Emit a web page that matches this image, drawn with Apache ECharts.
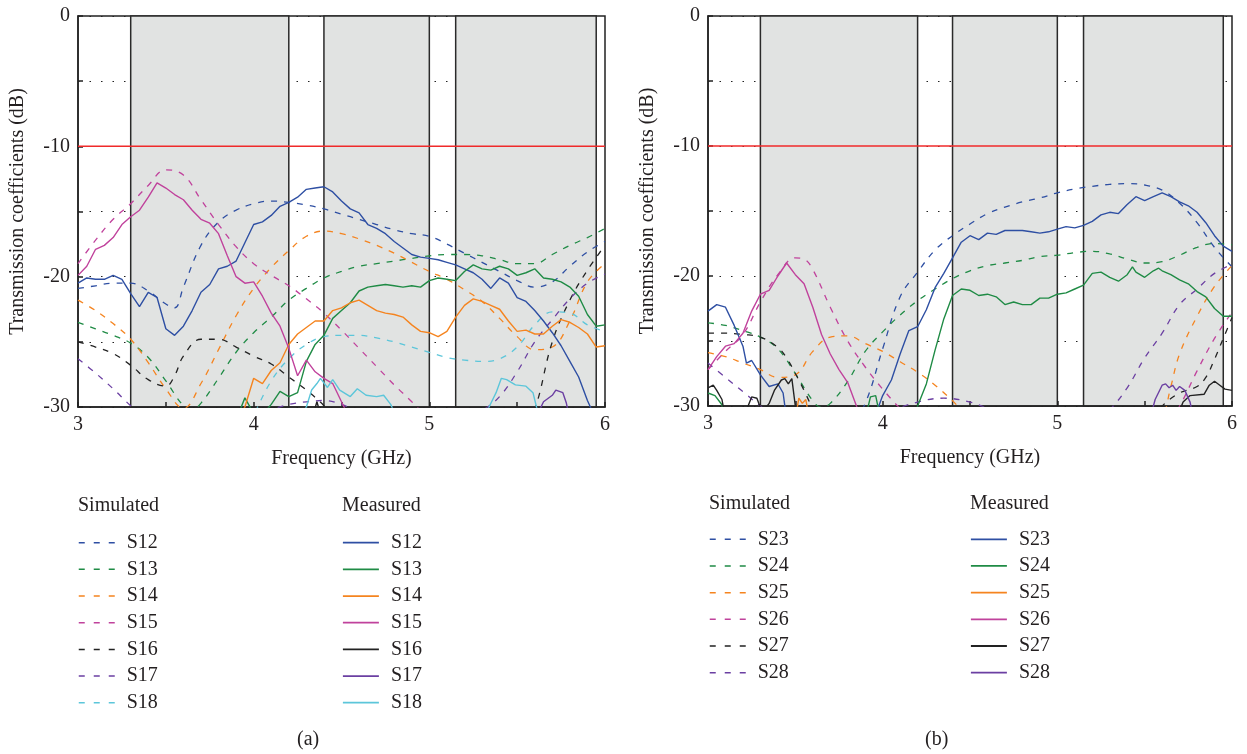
<!DOCTYPE html>
<html>
<head>
<meta charset="utf-8">
<script src="https://cdn.jsdelivr.net/npm/echarts@6/dist/echarts.min.js"></script>
<style>
html,body{margin:0;padding:0;background:#fff;}
#chart{width:1247px;height:754px;}
</style>
</head>
<body>
<div id="chart"></div>
<script>
// ---------- categories / ticks ----------
const freqMin = 3, freqMax = 6;
const dbMin = -30, dbMax = 0;
const threshold = -10;
const bandsA = [[3.3, 4.2], [4.4, 5.0], [5.15, 5.95]];
const bandsB = [[3.3, 4.2], [4.4, 5.0], [5.15, 5.95]];
const namesA = ['S12', 'S13', 'S14', 'S15', 'S16', 'S17', 'S18'];
const namesB = ['S23', 'S24', 'S25', 'S26', 'S27', 'S28'];

// ---------- panel (a) simulated ----------
const simS12 = [[3.0,-20.9],[3.1,-20.7],[3.2,-20.5],[3.3,-20.5],[3.4,-21.1],[3.5,-22.1],[3.55,-22.4],[3.6,-20.8],[3.7,-17.6],[3.8,-15.8],[3.9,-14.9],[4.0,-14.4],[4.1,-14.2],[4.2,-14.3],[4.3,-14.5],[4.4,-14.8],[4.5,-15.2],[4.6,-15.6],[4.7,-16.0],[4.8,-16.4],[4.9,-16.7],[5.0,-16.9],[5.1,-17.5],[5.2,-18.2],[5.3,-18.9],[5.4,-19.6],[5.5,-20.3],[5.6,-20.8],[5.7,-20.4],[5.8,-19.2],[5.9,-18.1],[6.0,-17.3]];
const simS13 = [[3.0,-23.5],[3.1,-24.0],[3.2,-24.5],[3.3,-25.1],[3.4,-26.2],[3.5,-28.0],[3.6,-29.9],[3.65,-30.2],[3.7,-29.7],[3.8,-27.8],[3.9,-25.8],[4.0,-24.3],[4.1,-23.1],[4.2,-21.8],[4.3,-20.9],[4.4,-20.1],[4.5,-19.6],[4.6,-19.2],[4.7,-19.0],[4.8,-18.8],[4.9,-18.6],[5.0,-18.4],[5.1,-18.3],[5.2,-18.3],[5.3,-18.4],[5.4,-18.7],[5.5,-19.0],[5.6,-19.0],[5.7,-18.3],[5.8,-17.6],[5.9,-17.0],[6.0,-16.3]];
const simS14 = [[3.0,-21.8],[3.1,-22.6],[3.2,-23.6],[3.3,-24.8],[3.4,-26.6],[3.5,-28.6],[3.6,-30.1],[3.7,-28.2],[3.8,-25.6],[3.9,-23.0],[4.0,-20.9],[4.1,-19.3],[4.2,-18.0],[4.3,-16.9],[4.4,-16.5],[4.5,-16.7],[4.6,-17.1],[4.7,-17.6],[4.8,-18.2],[4.9,-18.9],[5.0,-19.6],[5.1,-20.2],[5.2,-21.0],[5.3,-21.9],[5.4,-23.2],[5.5,-24.6],[5.6,-25.6],[5.7,-25.4],[5.8,-23.4],[5.9,-20.4],[6.0,-19.0]];
const simS15 = [[3.0,-19.0],[3.1,-17.2],[3.2,-15.6],[3.3,-14.4],[3.4,-13.0],[3.5,-11.8],[3.6,-12.2],[3.7,-14.1],[3.8,-16.0],[3.9,-17.7],[4.0,-19.0],[4.1,-19.9],[4.2,-20.7],[4.3,-21.7],[4.4,-22.8],[4.5,-24.1],[4.6,-25.5],[4.7,-26.9],[4.8,-28.3],[4.9,-29.6],[5.0,-31.0],[5.1,-32.5]];
const simS16 = [[3.0,-25.0],[3.1,-25.4],[3.2,-25.9],[3.3,-26.8],[3.4,-27.9],[3.5,-28.4],[3.55,-27.6],[3.6,-26.1],[3.7,-24.8],[3.8,-24.8],[3.9,-25.4],[4.0,-26.1],[4.1,-26.7],[4.2,-27.7],[4.3,-28.7],[4.4,-29.9],[4.5,-31.5],[4.6,-33],[5.0,'-'],[5.5,-33],[5.6,-30.2],[5.7,-25.0],[5.8,-21.8],[5.9,-19.5],[6.0,-17.6]];
const simS17 = [[3.0,-26.3],[3.1,-27.4],[3.2,-28.6],[3.3,-29.9],[3.4,-31.0],[3.5,-32.0],[3.6,-32.5],[3.7,-32.2],[3.8,-31.6],[3.9,-31.1],[4.0,-30.6],[4.1,-30.2],[4.2,-29.8],[4.3,-29.6],[4.4,-29.5],[4.5,-29.8],[4.6,-30.4],[4.7,-31.0],[4.8,-31.6],[4.9,-32.0],[5.0,-32.1],[5.1,-31.8],[5.2,-31.2],[5.3,-30.3],[5.4,-29.2],[5.5,-27.3],[5.6,-25.0],[5.7,-23.3],[5.8,-21.7],[5.9,-20.5],[6.0,-19.8]];
const simS18 = [[3.9,-33.0],[4.0,-30.6],[4.1,-28.0],[4.2,-26.3],[4.3,-25.2],[4.4,-24.6],[4.5,-24.5],[4.6,-24.5],[4.7,-24.7],[4.8,-25.0],[4.9,-25.4],[5.0,-25.8],[5.1,-26.2],[5.2,-26.4],[5.3,-26.5],[5.4,-26.3],[5.5,-25.4],[5.6,-23.7],[5.7,-22.7],[5.8,-22.8],[5.9,-23.7],[6.0,-24.2]];

// ---------- panel (a) measured ----------
const measS12 = [[3.0,-20.5],[3.05,-20.1],[3.1,-20.2],[3.15,-20.2],[3.2,-19.9],[3.25,-20.2],[3.3,-21.3],[3.35,-22.3],[3.4,-21.2],[3.45,-21.6],[3.5,-24.0],[3.55,-24.5],[3.6,-23.8],[3.65,-22.6],[3.7,-21.2],[3.75,-20.6],[3.8,-19.4],[3.85,-19.2],[3.9,-18.8],[3.95,-17.4],[4.0,-16.0],[4.05,-15.8],[4.1,-15.3],[4.15,-14.6],[4.2,-14.3],[4.25,-13.9],[4.3,-13.3],[4.35,-13.2],[4.4,-13.1],[4.45,-13.5],[4.5,-14.2],[4.55,-14.8],[4.6,-15.1],[4.65,-16.0],[4.7,-16.3],[4.75,-16.7],[4.8,-17.3],[4.85,-17.8],[4.9,-18.3],[4.95,-18.5],[5.0,-18.6],[5.05,-18.7],[5.1,-18.9],[5.15,-19.1],[5.2,-19.4],[5.25,-19.7],[5.3,-20.2],[5.35,-20.9],[5.4,-20.1],[5.45,-20.5],[5.5,-21.6],[5.55,-21.9],[5.6,-22.6],[5.65,-23.4],[5.7,-24.3],[5.75,-25.3],[5.8,-26.5],[5.85,-27.7],[5.9,-29.5],[5.95,-31.0],[6.0,-32.0]];
const measS13 = [[3.9,-31.0],[3.95,-29.3],[4.0,-30.5],[4.05,-30.6],[4.1,-29.8],[4.15,-28.8],[4.2,-29.2],[4.25,-28.9],[4.3,-26.5],[4.35,-25.2],[4.4,-24.5],[4.45,-23.2],[4.5,-22.6],[4.55,-22.0],[4.6,-21.1],[4.65,-20.8],[4.7,-20.7],[4.75,-20.6],[4.8,-20.7],[4.85,-20.8],[4.9,-20.7],[4.95,-20.8],[5.0,-20.3],[5.05,-20.1],[5.1,-20.2],[5.15,-20.3],[5.2,-19.6],[5.25,-19.1],[5.3,-19.4],[5.35,-19.5],[5.4,-19.2],[5.45,-19.4],[5.5,-19.9],[5.55,-19.7],[5.6,-19.4],[5.65,-20.1],[5.7,-20.2],[5.75,-20.4],[5.8,-20.8],[5.85,-21.5],[5.9,-22.9],[5.95,-23.8],[6.0,-23.7]];
const measS14 = [[3.9,-31.0],[3.95,-30.0],[4.0,-27.8],[4.05,-28.2],[4.1,-27.2],[4.15,-26.6],[4.2,-25.2],[4.25,-24.4],[4.3,-23.9],[4.35,-23.4],[4.4,-23.4],[4.45,-22.6],[4.5,-22.4],[4.55,-22.0],[4.6,-21.8],[4.65,-22.2],[4.7,-22.6],[4.75,-22.8],[4.8,-22.9],[4.85,-23.1],[4.9,-23.7],[4.95,-24.2],[5.0,-24.3],[5.05,-24.6],[5.1,-24.2],[5.15,-23.1],[5.2,-22.2],[5.25,-21.7],[5.3,-21.9],[5.35,-22.2],[5.4,-22.5],[5.45,-23.4],[5.5,-24.2],[5.55,-24.1],[5.6,-24.4],[5.65,-24.4],[5.7,-23.8],[5.75,-23.3],[5.8,-23.5],[5.85,-23.9],[5.9,-24.4],[5.95,-25.4],[6.0,-25.3]];
const measS15 = [[3.0,-19.9],[3.05,-19.2],[3.1,-17.9],[3.15,-17.6],[3.2,-17.0],[3.25,-16.0],[3.3,-15.4],[3.35,-14.9],[3.4,-13.9],[3.45,-12.8],[3.5,-13.2],[3.55,-13.7],[3.6,-14.1],[3.65,-14.9],[3.7,-15.6],[3.75,-15.9],[3.8,-16.7],[3.85,-18.4],[3.9,-20.0],[3.95,-20.5],[4.0,-20.4],[4.05,-21.5],[4.1,-22.8],[4.15,-23.8],[4.2,-25.5],[4.25,-27.6],[4.3,-26.4],[4.35,-27.3],[4.4,-27.8],[4.45,-28.2],[4.5,-29.6],[4.55,-31.0]];
const measS16 = [[4.33,-31.0],[4.36,-29.6],[4.39,-31.0]];
const measS17 = [[5.6,-31.0],[5.65,-29.6],[5.7,-29.1],[5.72,-28.7],[5.76,-28.9],[5.78,-29.7],[5.8,-31.0]];
const measS18 = [[4.25,-31.0],[4.3,-30.0],[4.33,-28.7],[4.36,-28.2],[4.38,-27.8],[4.42,-28.5],[4.45,-27.9],[4.49,-28.7],[4.55,-29.2],[4.59,-28.6],[4.64,-29.1],[4.7,-29.2],[4.74,-29.1],[4.78,-29.8],[4.82,-31.0],[4.9,'-'],[5.3,-31.0],[5.34,-30.0],[5.38,-28.9],[5.41,-27.8],[5.44,-27.9],[5.49,-28.3],[5.55,-28.4],[5.59,-28.9],[5.61,-30.0],[5.63,-31.0]];

// ---------- panel (b) simulated ----------
const simS23 = [[3.8,-32.0],[3.9,-29.8],[4.0,-25.6],[4.1,-21.6],[4.2,-19.7],[4.3,-18.0],[4.4,-16.9],[4.5,-16.0],[4.6,-15.2],[4.7,-14.7],[4.8,-14.3],[4.9,-14.0],[5.0,-13.6],[5.1,-13.3],[5.2,-13.1],[5.3,-12.95],[5.4,-12.9],[5.5,-13.0],[5.6,-13.4],[5.7,-14.4],[5.8,-15.9],[5.9,-17.8],[6.0,-19.3]];
const simS24 = [[3.0,-23.6],[3.1,-23.8],[3.2,-24.2],[3.3,-24.7],[3.4,-25.6],[3.5,-27.5],[3.6,-29.6],[3.65,-30.1],[3.7,-29.8],[3.8,-28.1],[3.9,-25.8],[4.0,-24.3],[4.1,-23.0],[4.2,-21.9],[4.3,-21.0],[4.4,-20.2],[4.5,-19.6],[4.6,-19.2],[4.7,-19.0],[4.8,-18.8],[4.9,-18.5],[5.0,-18.4],[5.1,-18.2],[5.2,-18.1],[5.3,-18.3],[5.4,-18.7],[5.5,-19.0],[5.6,-18.9],[5.7,-18.4],[5.8,-17.8],[5.9,-17.5],[6.0,-17.6]];
const simS25 = [[3.0,-25.9],[3.1,-26.2],[3.2,-26.7],[3.3,-27.2],[3.4,-27.8],[3.5,-27.6],[3.6,-25.8],[3.7,-24.7],[3.8,-24.6],[3.9,-25.2],[4.0,-25.8],[4.1,-26.6],[4.2,-27.4],[4.3,-28.4],[4.4,-29.6],[4.5,-31.0],[4.6,-32.0],[5.0,'-'],[5.5,-33.0],[5.6,-31.0],[5.65,-28.5],[5.7,-26.0],[5.8,-23.1],[5.9,-20.8],[6.0,-19.2]];
const simS26 = [[3.0,-27.2],[3.1,-25.8],[3.2,-24.5],[3.3,-22.0],[3.4,-19.9],[3.5,-18.6],[3.55,-18.7],[3.6,-19.5],[3.7,-22.4],[3.8,-25.0],[3.9,-27.0],[4.0,-28.7],[4.1,-30.2],[4.2,-31.5],[4.5,'-'],[5.6,-32.0],[5.7,-30.0],[5.8,-27.3],[5.9,-24.8],[6.0,-22.8]];
const simS27 = [[3.0,-24.4],[3.1,-24.4],[3.2,-24.5],[3.3,-24.7],[3.4,-25.5],[3.45,-26.3],[3.5,-27.5],[3.55,-28.8],[3.6,-30.3],[3.65,-32.0],[4.0,'-'],[5.55,-31.0],[5.6,-30.0],[5.7,-29.0],[5.8,-28.5],[5.85,-27.8],[5.9,-26.4],[5.95,-24.8],[6.0,-23.2]];
const simS28 = [[3.0,-26.7],[3.1,-27.8],[3.2,-28.9],[3.3,-30.0],[3.4,-31.0],[3.6,-32.0],[3.8,-31.5],[4.0,-30.6],[4.2,-29.7],[4.35,-29.4],[4.5,-29.7],[4.6,-30.2],[4.8,-31.5],[5.0,-32.0],[5.2,-31.5],[5.3,-30.3],[5.4,-28.6],[5.5,-26.3],[5.6,-24.4],[5.7,-22.2],[5.8,-21.0],[5.9,-19.8],[6.0,-19.1]];

// ---------- panel (b) measured ----------
const measS23 = [[3.0,-22.7],[3.05,-22.2],[3.1,-22.4],[3.15,-23.8],[3.2,-25.4],[3.22,-26.7],[3.25,-26.5],[3.3,-27.6],[3.35,-28.5],[3.4,-28.3],[3.43,-29.0],[3.45,-31.0],[3.7,'-'],[3.95,-31.0],[4.0,-29.2],[4.05,-28.0],[4.1,-26.0],[4.15,-24.2],[4.2,-23.9],[4.25,-22.6],[4.3,-20.9],[4.35,-19.8],[4.4,-18.6],[4.45,-17.4],[4.5,-16.9],[4.55,-17.2],[4.6,-16.7],[4.65,-16.8],[4.7,-16.5],[4.75,-16.5],[4.8,-16.5],[4.85,-16.6],[4.9,-16.7],[4.95,-16.6],[5.0,-16.4],[5.05,-16.2],[5.1,-16.3],[5.15,-16.1],[5.2,-15.8],[5.25,-15.3],[5.3,-15.1],[5.35,-15.2],[5.4,-14.5],[5.45,-13.9],[5.5,-14.2],[5.55,-13.9],[5.6,-13.6],[5.65,-13.9],[5.7,-14.3],[5.75,-14.6],[5.8,-15.1],[5.85,-15.9],[5.9,-16.9],[5.95,-17.7],[6.0,-18.1]];
const measS24 = [[3.0,-29.0],[3.04,-29.2],[3.08,-29.9],[3.1,-31.0],[3.5,'-'],[3.9,-31.0],[3.93,-29.3],[3.96,-29.2],[3.98,-30.5],[4.0,-31.0],[4.1,'-'],[4.18,-31.0],[4.2,-30.0],[4.25,-28.3],[4.3,-25.7],[4.35,-23.3],[4.4,-21.5],[4.45,-21.0],[4.5,-21.1],[4.55,-21.5],[4.6,-21.4],[4.65,-21.6],[4.7,-22.2],[4.75,-22.0],[4.8,-22.2],[4.85,-22.2],[4.9,-21.7],[4.95,-21.7],[5.0,-21.4],[5.05,-21.3],[5.1,-21.0],[5.15,-20.7],[5.2,-19.8],[5.25,-19.7],[5.3,-20.1],[5.35,-20.4],[5.4,-19.9],[5.43,-19.3],[5.45,-19.7],[5.5,-20.1],[5.55,-19.6],[5.58,-19.4],[5.6,-19.6],[5.65,-19.9],[5.7,-20.3],[5.75,-20.6],[5.8,-21.2],[5.85,-21.6],[5.9,-22.5],[5.95,-23.1],[6.0,-23.1]];
const measS25 = [[3.5,-31.0],[3.52,-29.4],[3.54,-29.8],[3.56,-29.5],[3.58,-31.0]];
const measS26 = [[3.0,-27.2],[3.05,-26.2],[3.1,-25.4],[3.15,-25.2],[3.2,-24.4],[3.25,-22.7],[3.3,-21.4],[3.35,-21.1],[3.4,-20.0],[3.45,-19.0],[3.5,-19.9],[3.55,-20.6],[3.6,-22.4],[3.65,-24.5],[3.7,-26.0],[3.75,-27.2],[3.8,-28.2],[3.85,-30.0],[3.9,-31.5]];
const measS27 = [[3.0,-28.6],[3.03,-28.4],[3.05,-28.8],[3.08,-29.5],[3.1,-31.0],[3.15,'-'],[3.2,-31.0],[3.25,-29.3],[3.28,-29.4],[3.31,-30.5],[3.35,-29.8],[3.38,-28.8],[3.42,-28.0],[3.44,-27.9],[3.46,-28.3],[3.48,-27.9],[3.5,-30.0],[3.52,-31.0],[4.0,'-'],[5.68,-31.0],[5.72,-29.7],[5.76,-29.2],[5.84,-29.1],[5.87,-28.4],[5.9,-28.1],[5.93,-28.4],[5.96,-28.7],[6.0,-28.8]];
const measS28 = [[5.53,-31.0],[5.56,-29.5],[5.6,-28.4],[5.62,-28.3],[5.64,-28.6],[5.66,-28.4],[5.68,-28.8],[5.7,-28.5],[5.73,-28.8],[5.76,-29.7],[5.78,-31.0]];

const colors = {
  blue: '#2e4fa3', green: '#1f8b45', orange: '#f5841f', magenta: '#c0429c',
  black: '#222222', purple: '#6b3fa2', cyan: '#5cc6da'
};
const colorA = [colors.blue, colors.green, colors.orange, colors.magenta, colors.black, colors.purple, colors.cyan];
const colorB = [colors.blue, colors.green, colors.orange, colors.magenta, colors.black, colors.purple];

const simA = [simS12, simS13, simS14, simS15, simS16, simS17, simS18];
const measA = [measS12, measS13, measS14, measS15, measS16, measS17, measS18];
const simB = [simS23, simS24, simS25, simS26, simS27, simS28];
const measB = [measS23, measS24, measS25, measS26, measS27, measS28];

const FONT = '"Liberation Serif", "DejaVu Serif", serif';
const TXT = '#231f20';

function bandSeries(idx, bands) {
  return {
    type: 'line', xAxisIndex: idx, yAxisIndex: idx, data: [], z: 1, silent: true,
    markArea: {
      silent: true,
      itemStyle: { color: '#e1e3e2', borderColor: '#2a2a2a', borderWidth: 1.5 },
      data: bands.map(b => [{ xAxis: b[0], yAxis: dbMin }, { xAxis: b[1], yAxis: dbMax }])
    }
  };
}
function thresholdSeries(idx) {
  return {
    type: 'line', xAxisIndex: idx, yAxisIndex: idx, z: 2, silent: true,
    symbol: 'none', data: [[freqMin, threshold], [freqMax, threshold]],
    lineStyle: { color: '#f02a2a', width: 1.5 }
  };
}
function curve(idx, name, data, color, dashed) {
  return {
    type: 'line', name: name, xAxisIndex: idx, yAxisIndex: idx, data: data,
    z: 3, symbol: 'none', showSymbol: false, clip: true, silent: true,
    smooth: dashed ? 0.4 : false,
    connectNulls: false,
    lineStyle: { color: color, width: dashed ? 1.3 : 1.4, type: dashed ? [6, 7] : 'solid' },
    itemStyle: { color: color },
    emphasis: { disabled: true }
  };
}

const series = [bandSeries(0, bandsA), bandSeries(1, bandsB), thresholdSeries(0), thresholdSeries(1)];
namesA.forEach((n, i) => series.push(curve(0, n + ' sim', simA[i], colorA[i], true)));
namesA.forEach((n, i) => series.push(curve(0, n, measA[i], colorA[i], false)));
namesB.forEach((n, i) => series.push(curve(1, n + ' sim', simB[i], colorB[i], true)));
namesB.forEach((n, i) => series.push(curve(1, n, measB[i], colorB[i], false)));

function xAxis(idx) {
  return {
    type: 'value', gridIndex: idx, min: freqMin, max: freqMax, interval: 0.5, z: 2,
    name: 'Frequency (GHz)', nameLocation: 'middle', nameGap: 42,
    nameTextStyle: { fontFamily: FONT, fontSize: 20, color: TXT },
    axisLine: { show: true, onZero: false, lineStyle: { color: '#222', width: 1.5 } },
    axisTick: { show: true, inside: true, length: 5, lineStyle: { color: '#222', width: 1.5 } },
    axisLabel: { fontFamily: FONT, fontSize: 20, color: TXT, margin: 8,
      formatter: v => (Math.abs(v - Math.round(v)) < 1e-9 ? String(Math.round(v)) : '') },
    splitLine: { show: false }
  };
}
function yAxis(idx) {
  return {
    type: 'value', gridIndex: idx, min: dbMin, max: dbMax, interval: 5,
    name: 'Transmission coefficients (dB)', nameLocation: 'middle', nameGap: 50, nameRotate: 90,
    nameTextStyle: { fontFamily: FONT, fontSize: 20, color: TXT },
    axisLine: { show: true, onZero: false, lineStyle: { color: '#222', width: 1.5 } },
    axisTick: { show: true, inside: true, length: 5, lineStyle: { color: '#222', width: 1.5 } },
    axisLabel: { fontFamily: FONT, fontSize: 20, color: TXT, margin: 8,
      formatter: v => (v % 10 === 0 ? String(v) : '') },
    splitLine: { show: true, lineStyle: { color: '#222', width: 1.2, type: [1.5, 10] } }
  };
}

function legend(names, left, top, dashed) {
  return {
    data: names, orient: 'vertical', left: left, top: top, padding: 0,
    itemWidth: 36, itemHeight: 14, itemGap: 6.67, selectedMode: false,
    formatter: n => n.replace(' sim', ''),
    textStyle: { fontFamily: FONT, fontSize: 20, color: TXT, padding: [0, 0, 0, 7] },
    itemStyle: { opacity: 0 },
    lineStyle: dashed ? { type: [6, 9], width: 1.5 } : { width: 1.8 }
  };
}
function label(text, left, top) {
  return { text: text, left: left, top: top, padding: 0,
    textStyle: { fontFamily: FONT, fontSize: 20, fontWeight: 'normal', color: TXT } };
}

const option = {
  animation: false,
  backgroundColor: '#ffffff',
  grid: [
    { left: 78, top: 16, width: 527, height: 391, show: true, borderColor: '#222', borderWidth: 1.5, backgroundColor: 'transparent' },
    { left: 708, top: 16, width: 524, height: 390, show: true, borderColor: '#222', borderWidth: 1.5, backgroundColor: 'transparent' }
  ],
  xAxis: [xAxis(0), xAxis(1)],
  yAxis: [yAxis(0), yAxis(1)],
  title: [
    label('Simulated', 78, 496), label('Measured', 342, 496),
    label('Simulated', 709, 494), label('Measured', 970, 494),
    label('(a)', 297, 730), label('(b)', 925, 730)
  ],
  legend: [
    legend(namesA.map(n => n + ' sim'), 78, 532.7, true),
    legend(namesA, 342, 532.7, false),
    legend(namesB.map(n => n + ' sim'), 709, 529.3, true),
    legend(namesB, 970, 529.3, false)
  ],
  series: series
};

const chart = echarts.init(document.getElementById('chart'), null, { renderer: 'canvas' });
chart.setOption(option);
</script>
</body>
</html>
